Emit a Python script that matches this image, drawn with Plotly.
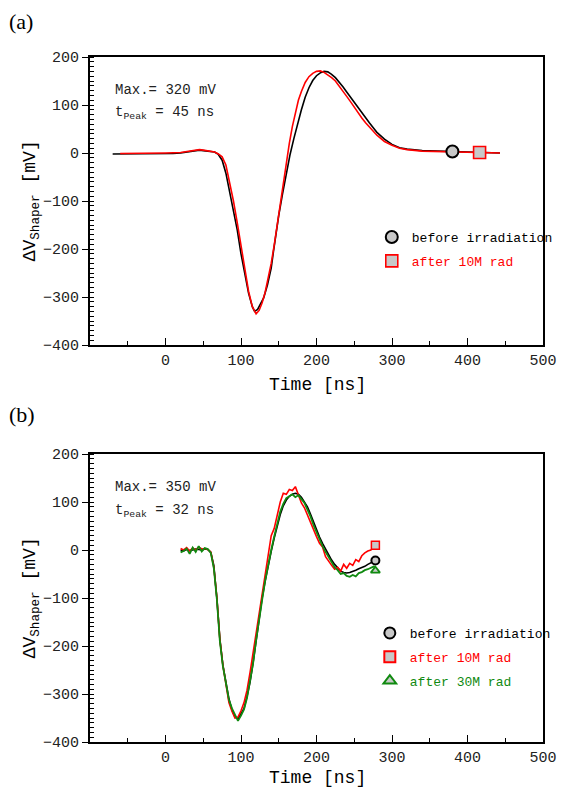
import plotly.graph_objects as go
from plotly.subplots import make_subplots

# ---------------- Panel (a) data ----------------
A_T_BLACK = [-70, -50, -30, -10, 10, 20, 30, 40, 45, 50, 55, 60, 65, 70, 75, 80, 85, 90, 95,
             100, 105, 110, 115, 118, 122, 126, 130, 135, 140, 143, 146, 150, 155, 160, 165,
             170, 175, 180, 185, 190, 195, 200, 205, 210, 215, 220, 225, 230, 235, 240, 245,
             250, 255, 260, 265, 270, 277, 280, 290, 300, 310, 320, 340, 360, 380, 400, 420, 443]
A_V_BLACK = [-2, -2, -2, -1, -1, 0, 2, 5, 6, 5, 4, 3, 2, -3, -15, -42, -80, -120, -160,
             -210, -255, -292, -320, -330, -326, -315, -302, -275, -240, -205, -170, -130, -85, -42, -3,
             30, 62, 90, 116, 136, 151, 161, 167, 170, 169, 164, 157, 148, 138, 127, 116,
             105, 94, 84, 73, 63, 49, 43, 29, 18, 11, 8, 5, 4, 3, 2, 1, 0]

A_T_RED = [-60, -40, -20, 0, 20, 30, 40, 45, 50, 55, 60, 65, 70, 75, 80, 85, 90, 95, 100,
           105, 110, 115, 120, 124, 128, 132, 136, 140, 144, 148, 152, 156, 160, 164, 168,
           172, 176, 180, 185, 190, 195, 200, 205, 210, 215, 220, 225, 230, 235, 240, 245,
           250, 255, 260, 265, 270, 275, 280, 290, 300, 310, 320, 340, 360, 380, 400, 416, 430, 443]
A_V_RED = [-1, -1, 0, 0, 1, 3, 6, 7, 6, 5, 3, 2, -2, -8, -25, -60, -100, -145, -195,
           -245, -288, -320, -335, -328, -312, -290, -262, -230, -192, -150, -100, -58, -18, 20, 55,
           85, 110, 128, 147, 159, 166, 170, 171, 168, 163, 157, 150, 140, 129, 118, 107,
           95, 84, 73, 63, 54, 45, 37, 24, 16, 10, 7, 4, 3, 2, 1, 1, 0, 0]

# ---------------- Panel (b) data ----------------
B_T = [20, 24, 28, 32, 36, 40, 44, 48, 52, 56, 60, 64, 68, 72, 76, 80, 84, 88, 92, 96,
       100, 104, 108, 112, 116, 120, 124, 128, 132, 136, 140, 144, 148, 152, 156, 160, 164,
       168, 172, 176, 180, 184, 188, 192, 196, 200, 204, 208, 212, 216, 220, 224, 228, 232,
       236, 240, 244, 248, 252, 256, 260, 264, 268, 272, 276, 278]
B_V_BLACK = [0, -2, 1, -1, 0, 2, 1, 0, 2, 1, -5, -32, -100, -185, -240, -277, -310, -333, -348, -352,
             -342, -330, -305, -275, -235, -190, -140, -100, -65, -30, -3, 25, 52, 74, 92, 104, 112,
             116, 118, 116, 110, 101, 90, 75, 58, 42, 27, 14, 2, -10, -21, -30, -38, -44,
             -47, -48, -47, -45, -42, -39, -37, -34, -30, -27, -24, -22]
B_V_RED = [3, 0, 5, -2, 4, 0, 6, 2, 3, 1, -4, -36, -98, -186, -240, -282, -318, -336, -350, -348,
           -335, -318, -292, -255, -215, -170, -125, -85, -50, -10, 30, 45, 70, 100, 118, 116, 126,
           124, 132, 116, 98, 88, 72, 58, 44, 28, 14, 6, -14, -24, -32, -40, -36, -44,
           -30, -38, -28, -32, -20, -24, -12, -6, -2, 0, 8, 10]
B_V_GREEN = [-5, -2, 3, -8, 5, -4, 8, -3, 4, 2, -6, -38, -102, -190, -242, -280, -312, -330, -345, -356,
             -345, -332, -308, -272, -236, -188, -142, -104, -64, -28, 0, 28, 55, 80, 96, 108, 112,
             116, 110, 114, 106, 98, 84, 70, 52, 36, 24, 8, -4, -14, -26, -36, -42, -50,
             -48, -54, -56, -52, -55, -48, -46, -42, -40, -37, -34, -38]

X_TICKS = [0, 100, 200, 300, 400, 500]
Y_TICKS = [-400, -300, -200, -100, 0, 100, 200]

NAME_BEFORE = "before irradiation"
NAME_10 = "after 10M rad"
NAME_30 = "after 30M rad"

BLACK = "#000000"
RED = "#ff0000"
GREEN = "#108a10"
FILL = "#c8c8c8"
MONO = "Liberation Mono, Courier New, monospace"

fig = make_subplots(rows=2, cols=1)

# Panel (a) lines
fig.add_trace(go.Scatter(x=A_T_BLACK, y=A_V_BLACK, mode="lines",
                         line=dict(color=BLACK, width=1.6), showlegend=False), row=1, col=1)
fig.add_trace(go.Scatter(x=A_T_RED, y=A_V_RED, mode="lines",
                         line=dict(color=RED, width=1.6), showlegend=False), row=1, col=1)
ia = A_T_BLACK.index(380)
ir = A_T_RED.index(416)
fig.add_trace(go.Scatter(x=[A_T_BLACK[ia]], y=[A_V_BLACK[ia]], mode="markers",
                         marker=dict(symbol="circle", size=12, color=FILL, line=dict(color=BLACK, width=2)),
                         name=NAME_BEFORE, legend="legend", legendgroup="a1"), row=1, col=1)
fig.add_trace(go.Scatter(x=[A_T_RED[ir]], y=[A_V_RED[ir]], mode="markers",
                         marker=dict(symbol="square", size=12, color=FILL, line=dict(color=RED, width=1.6)),
                         name='<span style="color:#ff0000">' + NAME_10 + '</span>',
                         legend="legend", legendgroup="a2"), row=1, col=1)

# Panel (b) lines
fig.add_trace(go.Scatter(x=B_T, y=B_V_BLACK, mode="lines",
                         line=dict(color=BLACK, width=1.6), showlegend=False), row=2, col=1)
fig.add_trace(go.Scatter(x=B_T, y=B_V_RED, mode="lines",
                         line=dict(color=RED, width=1.6), showlegend=False), row=2, col=1)
fig.add_trace(go.Scatter(x=B_T, y=B_V_GREEN, mode="lines",
                         line=dict(color=GREEN, width=1.8), showlegend=False), row=2, col=1)

# small end markers on the (b) curves
fig.add_trace(go.Scatter(x=[B_T[-1]], y=[B_V_BLACK[-1]], mode="markers", showlegend=False,
                         marker=dict(symbol="circle", size=8, color=FILL, line=dict(color=BLACK, width=2))),
              row=2, col=1)
fig.add_trace(go.Scatter(x=[B_T[-1]], y=[B_V_RED[-1]], mode="markers", showlegend=False,
                         marker=dict(symbol="square", size=8, color=FILL, line=dict(color=RED, width=1.5))),
              row=2, col=1)
fig.add_trace(go.Scatter(x=[B_T[-1]], y=[B_V_GREEN[-1] - 5], mode="markers", showlegend=False,
                         marker=dict(symbol="triangle-up", size=8, color=FILL, line=dict(color=GREEN, width=1.8))),
              row=2, col=1)

# legend entries for (b) (symbols only)
for nm, sym, col, grp in [(NAME_BEFORE, "circle", BLACK, "b1"),
                          ('<span style="color:#ff0000">' + NAME_10 + '</span>', "square", RED, "b2"),
                          ('<span style="color:#108a10">' + NAME_30 + '</span>', "triangle-up", GREEN, "b3")]:
    fig.add_trace(go.Scatter(x=[None], y=[None], mode="markers", name=nm, legend="legend2",
                             legendgroup=grp,
                             marker=dict(symbol=sym, size=11, color=FILL, line=dict(color=col, width=2))),
                  row=2, col=1)

xax = dict(range=[-100, 500], tickmode="array", tickvals=X_TICKS, ticks="inside", ticklen=7,
           tickwidth=1.3, tickcolor=BLACK, showline=True, linewidth=2, linecolor=BLACK, mirror=True,
           showgrid=False, zeroline=False,
           tickfont=dict(family=MONO, size=15, color="#222"),
           minor=dict(tickmode="linear", tick0=0, dtick=50, ticks="inside", ticklen=4,
                      tickcolor=BLACK, tickwidth=1, showgrid=False))
yax = dict(range=[-400, 200], tickmode="array", tickvals=Y_TICKS, ticks="outside", ticklen=6,
           tickwidth=1.3, tickcolor=BLACK, showline=True, linewidth=2, linecolor=BLACK, mirror=True,
           showgrid=False, zeroline=False,
           tickfont=dict(family=MONO, size=15, color="#222"),
           minor=dict(tickmode="linear", tick0=0, dtick=10, ticks="inside", ticklen=4,
                      tickcolor=BLACK, tickwidth=1, showgrid=False))

H = 789
mt, mb = 57, 47
ph = H - mt - mb
dom_h = 288 / ph

fig.update_layout(
    width=570, height=789,
    margin=dict(l=90, r=17, t=mt, b=mb),
    paper_bgcolor="white", plot_bgcolor="white",
    xaxis=dict(xax, domain=[0, 1]),
    yaxis=dict(yax, domain=[1 - dom_h, 1]),
    xaxis2=dict(xax, domain=[0, 1]),
    yaxis2=dict(yax, domain=[0, dom_h]),
    legend=dict(x=(378 - 90) / 463, y=(H - mb - 222) / ph, xanchor="left", yanchor="top",
                bgcolor="rgba(0,0,0,0)", font=dict(family=MONO, size=13, color=BLACK),
                tracegroupgap=4, itemwidth=30),
    legend2=dict(x=(376 - 90) / 463, y=(H - mb - 618) / ph, xanchor="left", yanchor="top",
                 bgcolor="rgba(0,0,0,0)", font=dict(family=MONO, size=13, color=BLACK),
                 tracegroupgap=4, itemwidth=30),
    showlegend=True,
)

def py(ypx):
    return (H - mb - ypx) / ph

def px(xpx):
    return (xpx - 90) / 463

ann = []
for lab, ylab in [("(a)", 21), ("(b)", 415)]:
    ann.append(dict(text=lab, x=px(5), y=py(ylab), xref="paper", yref="paper", xanchor="left",
                    yanchor="middle", showarrow=False,
                    font=dict(family="Liberation Serif, Times New Roman, serif", size=22, color=BLACK)))
for (m, tp, y1, y2) in [("320", "45", 90, 113), ("350", "32", 487, 511)]:
    ann.append(dict(text="Max.= " + m + " mV", x=px(114), y=py(y1), xref="paper", yref="paper",
                    xanchor="left", yanchor="middle", showarrow=False,
                    font=dict(family=MONO, size=14, color="#222")))
    ann.append(dict(text="t<sub>Peak</sub> = " + tp + " ns", x=px(114), y=py(y2), xref="paper", yref="paper",
                    xanchor="left", yanchor="middle", showarrow=False,
                    font=dict(family=MONO, size=14, color="#222")))
for (yc, yt) in [(201, 385), (598, 778)]:
    ann.append(dict(text="ΔV<sub>Shaper</sub> [mV]", x=px(30), y=py(yc), xref="paper", yref="paper",
                    xanchor="center", yanchor="middle", textangle=-90, showarrow=False,
                    font=dict(family=MONO, size=18, color=BLACK)))
    ann.append(dict(text="Time [ns]", x=px(323), y=py(yt), xref="paper", yref="paper",
                    xanchor="center", yanchor="middle", showarrow=False,
                    font=dict(family=MONO, size=18, color=BLACK)))
fig.update_layout(annotations=ann)

fig.write_html("out.html")
